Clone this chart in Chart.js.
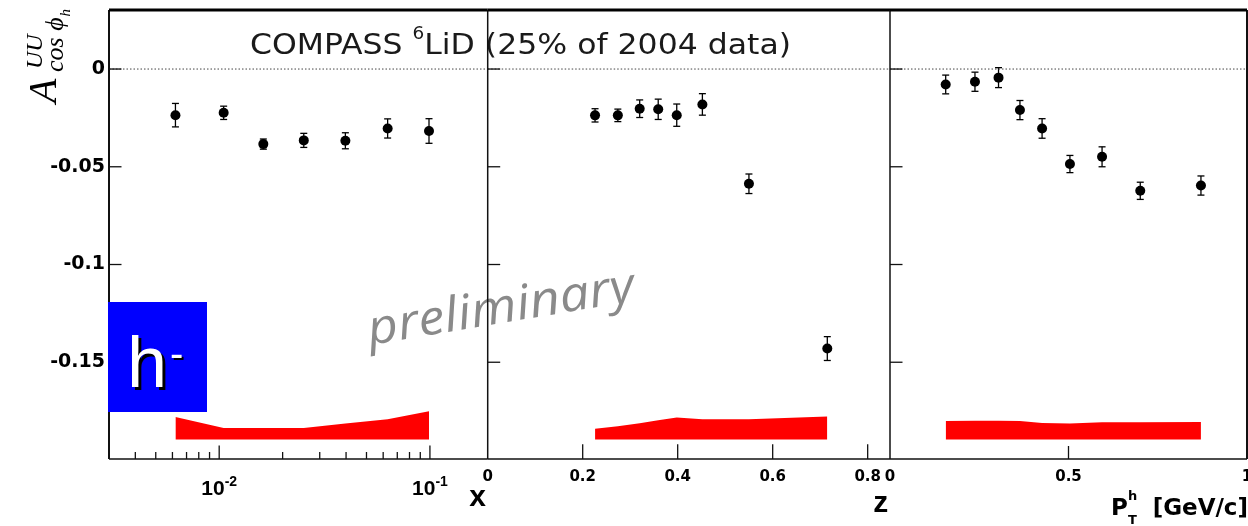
<!DOCTYPE html>
<html>
<head>
<meta charset="utf-8">
<script src="https://cdn.jsdelivr.net/npm/chart.js@4/dist/chart.umd.min.js"></script>
<style>
  html, body { margin: 0; padding: 0; background: #fff; }
  #wrap { position: relative; width: 1248px; height: 526px; }
  #wrap canvas { position: absolute; left: 0; top: 0; }
</style>
</head>
<body>
<div id="wrap">
  <canvas id="cx" width="1248" height="526"></canvas>
  <canvas id="cz" width="1248" height="526"></canvas>
  <canvas id="cpt" width="1248" height="526"></canvas>
</div>
<script>
// waarden
const yTickVals = [-0.15, -0.1, -0.05, 0];
const sysBase = -0.1895;

// paneel x
const xBins = [0.0062, 0.0105, 0.0162, 0.0252, 0.0397, 0.063, 0.099];
const xAsym = [-0.0236, -0.0224, -0.0384, -0.0365, -0.0367, -0.0304, -0.0317];
const xStat = [0.006, 0.0034, 0.0026, 0.0036, 0.0041, 0.0049, 0.0063];
const xSys = [-0.178, -0.1837, -0.1837, -0.1837, -0.1814, -0.1792, -0.1751];
const xMajor = [0.01, 0.1];
const xMajorExp = ["-2", "-1"];
const xMinor = [0.004, 0.005, 0.006, 0.007, 0.008, 0.009, 0.02, 0.03, 0.04, 0.05, 0.06, 0.07, 0.08, 0.09];

// paneel z
const zBins = [0.226, 0.274, 0.32, 0.359, 0.398, 0.452, 0.55, 0.715];
const zAsym = [-0.0237, -0.0237, -0.0203, -0.0206, -0.0236, -0.0181, -0.0587, -0.143];
const zStat = [0.0034, 0.0032, 0.0045, 0.0052, 0.0057, 0.0055, 0.005, 0.0061];
const zSys = [-0.184, -0.1828, -0.1812, -0.1797, -0.1783, -0.1792, -0.1792, -0.1778];
const zTicks = [0, 0.2, 0.4, 0.6, 0.8];

// paneel pT
const ptBins = [0.156, 0.238, 0.304, 0.364, 0.426, 0.504, 0.594, 0.701, 0.871];
const ptAsym = [-0.0079, -0.0065, -0.0044, -0.021, -0.0304, -0.0486, -0.0449, -0.0623, -0.0596];
const ptStat = [0.0048, 0.0049, 0.0051, 0.0049, 0.005, 0.0044, 0.0051, 0.0044, 0.0049];
const ptSys = [-0.1801, -0.1799, -0.1799, -0.1801, -0.1811, -0.1814, -0.1807, -0.1807, -0.1806];
const ptTicks = [0, 0.5, 1];

function line(ctx, x1, y1, x2, y2) {
  ctx.beginPath(); ctx.moveTo(x1, y1); ctx.lineTo(x2, y2); ctx.stroke();
}

// assen, ticks en nul-lijn
const frame = {
  id: "frame",
  afterDraw(chart, args, o) {
    const { ctx, chartArea: a } = chart;
    const x = chart.scales.x, y = chart.scales.y;
    ctx.save();
    const y0 = y.getPixelForValue(0);
    ctx.strokeStyle = "#444"; ctx.lineWidth = 1; ctx.setLineDash([1.5, 2]);
    line(ctx, a.left, y0, a.right, y0);
    ctx.setLineDash([]);
    ctx.strokeStyle = "#111"; ctx.lineWidth = 1.3;
    yTickVals.forEach(v => { const p = y.getPixelForValue(v); line(ctx, a.left, p, a.left + 12.5, p); });
    o.major.forEach(v => { const p = x.getPixelForValue(v); line(ctx, p, a.bottom, p, a.bottom - o.majorLen); });
    (o.minor || []).forEach(v => { const p = x.getPixelForValue(v); line(ctx, p, a.bottom, p, a.bottom - 7); });
    ctx.lineWidth = 1.5; line(ctx, a.left, a.bottom, a.right, a.bottom);
    ctx.lineWidth = o.leftW; line(ctx, a.left, a.top, a.left, a.bottom);
    if (o.rightW) { ctx.lineWidth = o.rightW; line(ctx, a.right, a.top, a.right, a.bottom); }
    ctx.strokeStyle = "#000"; ctx.lineWidth = 3; line(ctx, a.left, a.top, a.right, a.top);
    ctx.restore();
  }
};

// statistische foutbalken
const errbars = {
  id: "errbars",
  afterDatasetsDraw(chart) {
    const ds = chart.data.datasets[1];
    const { ctx } = chart;
    const x = chart.scales.x, y = chart.scales.y;
    ctx.save(); ctx.strokeStyle = "#000"; ctx.lineWidth = 1.3;
    ds.data.forEach((p, i) => {
      const px = x.getPixelForValue(p.x);
      const hi = y.getPixelForValue(p.y + ds.errors[i]);
      const lo = y.getPixelForValue(p.y - ds.errors[i]);
      line(ctx, px, hi, px, lo);
      line(ctx, px - 3.5, hi, px + 3.5, hi);
      line(ctx, px - 3.5, lo, px + 3.5, lo);
    });
    ctx.restore();
  }
};

// teksten op paneel 1
const deco1 = {
  id: "deco1",
  afterDraw(chart) {
    const ctx = chart.ctx;
    ctx.save();
    // titel
    const parts = [
      { t: "COMPASS ", f: '29px "DejaVu Sans"', dy: 0 },
      { t: "6", f: '17px "DejaVu Sans"', dy: -14.7 },
      { t: "LiD (25% of 2004 data)", f: '29px "DejaVu Sans"', dy: 0 }
    ];
    let w = 0;
    parts.forEach(p => { ctx.font = p.f; p.w = ctx.measureText(p.t).width; w += p.w; });
    ctx.save(); ctx.translate(250, 54); ctx.scale(541 / w, 1); ctx.fillStyle = "#1a1a1a";
    let cx = 0;
    parts.forEach(p => { ctx.font = p.f; ctx.fillText(p.t, cx, p.dy); cx += p.w; });
    ctx.restore();

    // y-as titel
    ctx.save(); ctx.translate(56, 103); ctx.rotate(-Math.PI / 2); ctx.fillStyle = "#000";
    ctx.font = 'italic 40px "Liberation Serif"'; ctx.fillText("A", 0, 0);
    ctx.font = 'italic 24px "Liberation Serif"'; ctx.fillText("UU", 34, -14);
    ctx.font = 'italic 26px "Liberation Serif"'; ctx.fillText("cos \u03d5", 31, 7);
    const cw = ctx.measureText("cos \u03d5").width;
    ctx.font = 'italic 15px "Liberation Serif"'; ctx.fillText("h", 31 + cw + 1, 14);
    ctx.restore();

    // preliminary
    ctx.save(); ctx.translate(370, 345); ctx.rotate(-9.5 * Math.PI / 180);
    ctx.font = 'italic 48px "Open Sans", "DejaVu Sans"'; ctx.fillStyle = "#8a8a8a";
    const pw = ctx.measureText("preliminary").width;
    ctx.scale(270 / pw, 1); ctx.fillText("preliminary", 0, 0);
    ctx.restore();

    // x labels met exponent
    const xs = chart.scales.x;
    ctx.fillStyle = "#000";
    xMajor.forEach((v, i) => {
      const p = xs.getPixelForValue(v);
      ctx.font = 'bold 21px "Liberation Sans"'; const w1 = ctx.measureText("10").width;
      ctx.font = 'bold 14px "Liberation Sans"'; const w2 = ctx.measureText(xMajorExp[i]).width;
      const s = p - (w1 + w2) / 2;
      ctx.font = 'bold 21px "Liberation Sans"'; ctx.fillText("10", s, 495);
      ctx.font = 'bold 14px "Liberation Sans"'; ctx.fillText(xMajorExp[i], s + w1, 486);
    });
    ctx.font = 'bold 30px "Liberation Sans"'; ctx.textAlign = "center";
    ctx.fillText("x", 477.5, 506);

    // h- kader
    ctx.textAlign = "left";
    ctx.fillStyle = "#0000ff"; ctx.fillRect(108, 302, 99, 110);
    ctx.font = '72px "Liberation Sans"';
    ctx.fillStyle = "#000"; ctx.fillText("h", 130, 390);
    ctx.fillStyle = "#fff"; ctx.fillText("h", 127, 387);
    ctx.font = '40px "Liberation Sans"';
    ctx.fillStyle = "#000"; ctx.fillText("-", 172, 369);
    ctx.fillStyle = "#fff"; ctx.fillText("-", 170, 367);
    ctx.restore();
  }
};

const deco2 = {
  id: "deco2",
  afterDraw(chart) {
    const ctx = chart.ctx;
    ctx.save(); ctx.fillStyle = "#000"; ctx.textAlign = "center";
    ctx.font = 'bold 30px "Liberation Sans"'; ctx.fillText("z", 880.8, 511.7);
    ctx.restore();
  }
};

const deco3 = {
  id: "deco3",
  afterDraw(chart) {
    const ctx = chart.ctx;
    ctx.save(); ctx.fillStyle = "#000";
    ctx.font = 'bold 23px "DejaVu Sans"'; ctx.fillText("P", 1111, 515);
    ctx.font = 'bold 13px "DejaVu Sans"'; ctx.fillText("h", 1128, 500); ctx.fillText("T", 1128, 524);
    ctx.font = 'bold 23px "DejaVu Sans"'; ctx.textAlign = "right"; ctx.fillText("[GeV/c]", 1248, 515);
    ctx.restore();
  }
};

function panel(id, p) {
  return new Chart(document.getElementById(id), {
    type: "line",
    data: {
      datasets: [
        {
          data: p.bins.map((x, i) => ({ x: x, y: p.sys[i] })),
          borderWidth: 0, pointRadius: 0, tension: 0,
          borderColor: "#ff0000", backgroundColor: "#ff0000",
          fill: { value: sysBase }
        },
        {
          data: p.bins.map((x, i) => ({ x: x, y: p.asym[i] })),
          errors: p.stat,
          showLine: false, pointRadius: 5, pointBorderWidth: 0,
          pointBackgroundColor: "#000", borderColor: "#000"
        }
      ]
    },
    options: {
      responsive: false,
      animation: false,
      layout: { autoPadding: false, padding: p.pad },
      plugins: { legend: { display: false }, tooltip: { enabled: false }, frame: p.frame },
      scales: {
        x: Object.assign({
          bounds: "data",
          grid: { display: false, drawTicks: false },
          border: { display: false },
          afterFit: s => { s.height = 67; s.paddingLeft = 0; s.paddingRight = 0; }
        }, p.x),
        y: {
          display: p.showY,
          min: -0.1995,
          max: 0.0302,
          bounds: "data",
          grid: { display: false, drawTicks: false },
          border: { display: false },
          ticks: {
            autoSkip: false, padding: 4, color: "#000",
            font: { family: "DejaVu Sans", weight: "bold", size: 19 },
            callback: v => (v === 0 ? "0" : String(v))
          },
          afterBuildTicks: s => { s.ticks = yTickVals.map(v => ({ value: v })); },
          afterFit: s => { s.width = p.showY ? 109 : 0; s.paddingTop = 0; s.paddingBottom = 0; }
        }
      }
    },
    plugins: [frame, errbars].concat(p.extra)
  });
}

const tickFont = { family: "DejaVu Sans", weight: "bold", size: 15 };

panel("cx", {
  bins: xBins, asym: xAsym, stat: xStat, sys: xSys, showY: true,
  pad: { left: 0, top: 10, right: 760.3, bottom: 0 },
  frame: { major: xMajor, minor: xMinor, majorLen: 13.5, leftW: 2 },
  x: {
    type: "logarithmic", min: 0.003, max: 0.188,
    ticks: { display: false },
    afterBuildTicks: s => { s.ticks = xMajor.map(v => ({ value: v })); }
  },
  extra: [deco1]
});

panel("cz", {
  bins: zBins, asym: zAsym, stat: zStat, sys: zSys, showY: false,
  pad: { left: 487.7, top: 10, right: 358, bottom: 0 },
  frame: { major: zTicks.slice(1), majorLen: 14.7, leftW: 1.5 },
  x: {
    type: "linear", min: 0, max: 0.847,
    ticks: { autoSkip: false, maxRotation: 0, padding: 9, color: "#000", font: tickFont,
      callback: v => (v === 0 ? "0" : v.toFixed(1)) },
    afterBuildTicks: s => { s.ticks = zTicks.map(v => ({ value: v })); }
  },
  extra: [deco2]
});

panel("cpt", {
  bins: ptBins, asym: ptAsym, stat: ptStat, sys: ptSys, showY: false,
  pad: { left: 890, top: 10, right: 1, bottom: 0 },
  frame: { major: [0.5], majorLen: 13, leftW: 1.5, rightW: 2 },
  x: {
    type: "linear", min: 0, max: 1,
    ticks: { autoSkip: false, maxRotation: 0, padding: 9, color: "#000", font: tickFont,
      callback: v => (v === 0 || v === 1 ? String(v) : v.toFixed(1)) },
    afterBuildTicks: s => { s.ticks = ptTicks.map(v => ({ value: v })); }
  },
  extra: [deco3]
});
</script>
</body>
</html>
